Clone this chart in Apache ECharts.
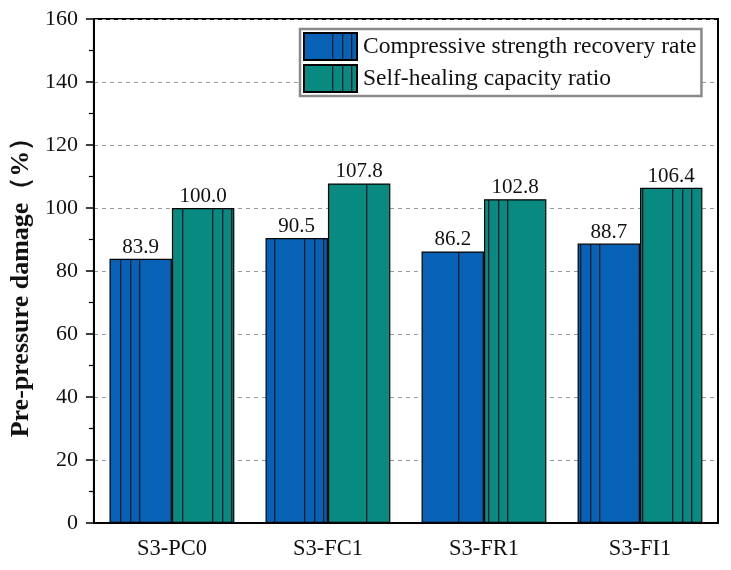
<!DOCTYPE html>
<html><head><meta charset="utf-8">
<script src="https://cdn.jsdelivr.net/npm/echarts@6/dist/echarts.min.js"></script>
<style>html,body{margin:0;padding:0;background:#fff}#c{width:731px;height:570px}</style>
</head><body><div id="c"></div>
<script>
var categories = ['S3-PC0', 'S3-FC1', 'S3-FR1', 'S3-FI1'];
var recoveryRate = [83.9, 90.5, 86.2, 88.7];
var healingRatio = [100.0, 107.8, 102.8, 106.4];
var seriesNames = ['Compressive strength recovery rate', 'Self-healing capacity ratio'];
var yTicks = [0, 20, 40, 60, 80, 100, 120, 140, 160];

function makePattern(fill) {
  var cv = document.createElement('canvas');
  cv.width = 92; cv.height = 8;
  var ctx = cv.getContext('2d');
  ctx.fillStyle = fill; ctx.fillRect(0, 0, 92, 8);
  ctx.fillStyle = '#0b1a2a';
  [28, 38, 47, 90].forEach(function (x) { ctx.fillRect(x, 0, 1.3, 8); });
  return { image: cv, repeat: 'repeat' };
}
var font = '"Liberation Serif", "Times New Roman", serif';
var chart = echarts.init(document.getElementById('c'), null, { renderer: 'canvas' });
chart.setOption({
  animation: false,
  backgroundColor: '#fff',
  grid: { left: 93, right: 13, top: 19, bottom: 47, show: true, borderColor: '#000', borderWidth: 2, backgroundColor: 'transparent' },
  legend: {
    orient: 'vertical', left: 300, top: 29, itemWidth: 53, itemHeight: 27, itemGap: 3,
    icon: 'rect',
    padding: [3, 5, 3, 3], borderColor: '#8a8a8a', borderWidth: 2.5, backgroundColor: '#fff',
    textStyle: { fontFamily: font, fontSize: 23.5, color: '#111', padding: [0, 0, 0, 1] },
    data: seriesNames
  },
  xAxis: {
    type: 'category', data: categories,
    axisLine: { lineStyle: { color: '#000', width: 2 } },
    axisTick: { alignWithLabel: true, length: 8, lineStyle: { color: '#000', width: 1.5 } },
    axisLabel: { fontFamily: font, fontSize: 22.5, color: '#111', margin: 15 }
  },
  yAxis: {
    type: 'value', min: yTicks[0], max: yTicks[yTicks.length - 1], interval: 20,
    name: 'Pre-pressure damage（%）', nameLocation: 'middle', nameGap: 56,
    nameTextStyle: { fontFamily: font, fontSize: 26, fontWeight: 'bold', color: '#111', padding: [0, 20, 0, 0] },
    axisLine: { show: true, lineStyle: { color: '#000', width: 2 } },
    axisTick: { show: true, length: 8, lineStyle: { color: '#000', width: 1.5 } },
    minorTick: { show: true, splitNumber: 2, length: 5, lineStyle: { color: '#000', width: 1.2 } },
    axisLabel: { fontFamily: font, fontSize: 22, color: '#111', margin: 16 },
    splitLine: { show: true, lineStyle: { color: '#999', type: [4, 4], width: 1 } }
  },
  series: [
    {
      name: seriesNames[0], type: 'bar', data: recoveryRate, barGap: '0%', barCategoryGap: '20%',
      itemStyle: { color: makePattern('#0762b6'), borderColor: '#000', borderWidth: 1.2 },
      label: { show: true, position: 'top', distance: 1, fontFamily: font, fontSize: 21, color: '#111', formatter: function (p) { return p.value.toFixed(1); } }
    },
    {
      name: seriesNames[1], type: 'bar', data: healingRatio,
      itemStyle: { color: makePattern('#088a80'), borderColor: '#000', borderWidth: 1.2 },
      label: { show: true, position: 'top', distance: 1, fontFamily: font, fontSize: 21, color: '#111', formatter: function (p) { return p.value.toFixed(1); } }
    }
  ]
});
</script></body></html>
